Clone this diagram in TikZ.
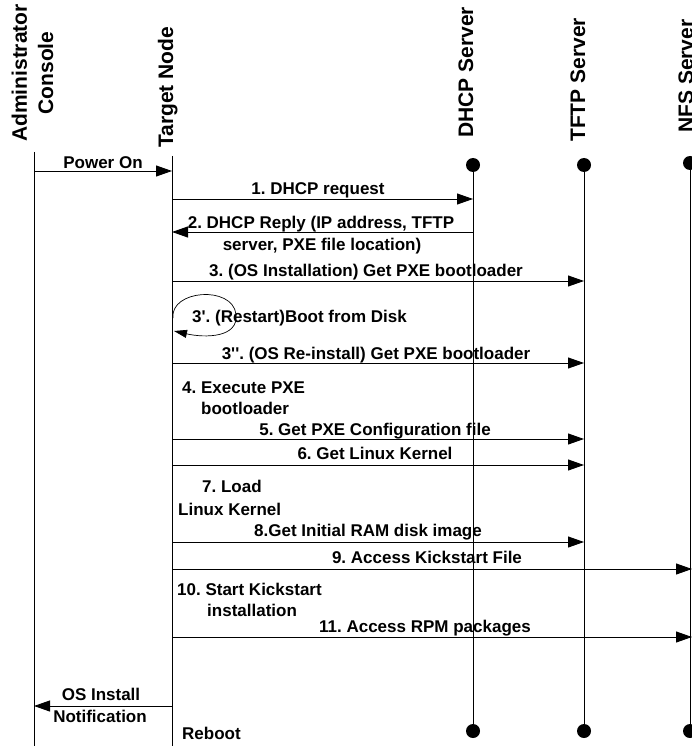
\documentclass[tikz,border=0pt]{standalone}
\usepackage{fontspec}
\setmainfont{Liberation Sans}[Ligatures=TeXOff]
\usetikzlibrary{arrows.meta}
\begin{document}
\frenchspacing
\begin{tikzpicture}[x=1pt,y=-1pt,
  hdr/.style={rotate=90, inner sep=0pt, font=\fontsize{21}{26}\selectfont\bfseries},
  lbl/.style={inner sep=0pt, font=\fontsize{17}{22}\selectfont\bfseries\frenchspacing},
  life/.style={line width=0.9pt},
  msg/.style={line width=0.9pt, -{Triangle[length=16pt,width=11pt]}},
  loopmsg/.style={line width=0.7pt, -{Triangle[length=13pt,width=8pt]}},
  dot/.style={circle, fill=black, inner sep=0pt, minimum size=14pt}]
\useasboundingbox (0,0) rectangle (692,746);

% headers
\node[hdr, anchor=base] (hAdm) at (27,73) {Administrator};
\node[hdr, anchor=base] (hCon) at (53,73) {Console};
\node[hdr, anchor=base west] (hTgt) at (173,148) {Target Node};
\node[hdr, anchor=base west] (hDh) at (473,138) {DHCP Server};
\node[hdr, anchor=base west] (hTf) at (585,142) {TFTP Server};
\node[hdr, anchor=base west] (hNf) at (693,133) {NFS Server};

% lifelines
\coordinate (adT) at (34,152); \coordinate (adB) at (34,746);
\coordinate (tnT) at (172,156); \coordinate (tnB) at (172,746);
\node[dot] (dhT) at (473,165) {}; \node[dot] (dhB) at (473,731) {};
\node[dot] (tfT) at (584,165) {}; \node[dot] (tfB) at (584,731) {};
\node[dot] (nfT) at (690,163) {}; \node[dot] (nfB) at (690,731) {};
\draw[life] (adT) -- (adB);
\draw[life] (tnT) -- (tnB);
\draw[life] (dhT.center) -- (dhB.center);
\draw[life] (tfT.center) -- (tfB.center);
\draw[life] (nfT.center) -- (nfB.center);

% message end points
\coordinate (ad0) at (34,171);  \coordinate (tn0) at (172,171);
\coordinate (tn1) at (172,199); \coordinate (dh1) at (473,199);
\coordinate (tn2) at (172,232); \coordinate (dh2) at (473,232);
\coordinate (tn3) at (172,281); \coordinate (tf3) at (584,281);
\coordinate (lpS) at (173,318); \coordinate (lpE) at (174,331);
\coordinate (tn4) at (172,363); \coordinate (tf4) at (584,363);
\coordinate (tn5) at (172,439); \coordinate (tf5) at (584,439);
\coordinate (tn6) at (172,465); \coordinate (tf6) at (584,465);
\coordinate (tn8) at (172,542); \coordinate (tf8) at (584,542);
\coordinate (tn9) at (172,569); \coordinate (nf9) at (692,569);
\coordinate (tn11) at (172,637); \coordinate (nf11) at (692,637);
\coordinate (tn12) at (172,706); \coordinate (ad12) at (34,706);

% messages
\draw[msg] (ad0) -- (tn0);
\draw[msg] (tn1) -- (dh1);
\draw[msg] (dh2) -- (tn2);
\draw[msg] (tn3) -- (tf3);
\draw[loopmsg] (lpS) .. controls (170,290) and (232,285) .. (236,314)
   .. controls (239,338) and (205,338) .. (lpE);
\draw[msg] (tn4) -- (tf4);
\draw[msg] (tn5) -- (tf5);
\draw[msg] (tn6) -- (tf6);
\draw[msg] (tn8) -- (tf8);
\draw[msg] (tn9) -- (nf9);
\draw[msg] (tn11) -- (nf11);
\draw[msg] (tn12) -- (ad12);

% labels
\node[lbl, anchor=base] (lPow) at (103,168) {Power On};
\node[lbl, anchor=base] (l1) at (318,194) {1. DHCP request};
\node[lbl, anchor=base] (l2a) at (321,228) {2. DHCP Reply (IP address, TFTP};
\node[lbl, anchor=base] (l2b) at (322,250) {server, PXE file location)};
\node[lbl, anchor=base] (l3) at (366,276) {3. (OS Installation) Get PXE bootloader};
\node[lbl, anchor=base west] (l3a) at (192,322) {3'. (Restart)Boot from Disk};
\node[lbl, anchor=base] (l3b) at (376,359) {3''. (OS Re-install) Get PXE bootloader};
\node[lbl, anchor=base west] (l4a) at (182,393) {4. Execute PXE};
\node[lbl, anchor=base west] (l4b) at (201,414) {bootloader};
\node[lbl, anchor=base] (l5) at (375,435) {5. Get PXE Configuration file};
\node[lbl, anchor=base] (l6) at (375,459) {6. Get Linux Kernel};
\node[lbl, anchor=base west] (l7a) at (202,492) {7. Load};
\node[lbl, anchor=base west] (l7b) at (178,515) {Linux Kernel};
\node[lbl, anchor=base] (l8) at (368,536) {8.Get Initial RAM disk image};
\node[lbl, anchor=base] (l9) at (427,563) {9. Access Kickstart File};
\node[lbl, anchor=base west] (l10a) at (177,595) {10. Start Kickstart};
\node[lbl, anchor=base west] (l10b) at (207,616) {installation};
\node[lbl, anchor=base] (l11) at (425,632) {11. Access RPM packages};
\node[lbl, anchor=base] (l12a) at (101,700) {OS Install};
\node[lbl, anchor=base] (l12b) at (100,722) {Notification};
\node[lbl, anchor=base west] (lReb) at (182,739) {Reboot};
\end{tikzpicture}
\end{document}
